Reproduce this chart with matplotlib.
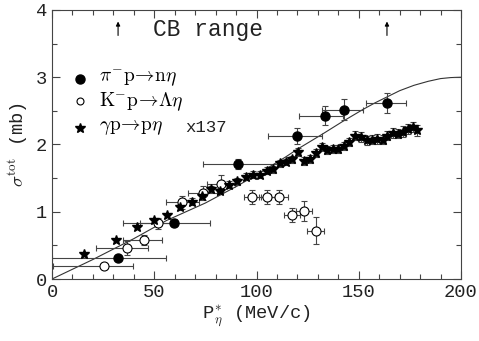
import matplotlib
matplotlib.use("Agg")
import matplotlib.pyplot as plt
import numpy as np
from matplotlib.ticker import MultipleLocator

plt.rcParams['mathtext.fontset'] = 'cm'
plt.rcParams['font.family'] = ['Liberation Mono', 'DejaVu Sans']

# pi- p -> n eta (filled circles)
pi_x = [32.4, 59.7, 90.8, 120.0, 133.5, 142.8, 163.7]
pi_y = [0.31, 0.84, 1.71, 2.12, 2.43, 2.52, 2.62]
pi_xlo = [32.4, 25.0, 17.0, 14.2, 12.7, 10.9, 10.2]
pi_xhi = [23.3, 17.6, 19.0, 11.9, 8.8, 9.5, 9.3]
pi_yerr = [0.03, 0.05, 0.08, 0.12, 0.14, 0.15, 0.15]

# K- p -> Lambda eta (open circles)
k_x = [25.6, 36.5, 45.0, 52.0, 63.8, 73.7, 82.6, 98.0, 105.0, 111.2, 117.5, 123.2, 128.9]
k_y = [0.20, 0.46, 0.58, 0.83, 1.14, 1.28, 1.42, 1.22, 1.22, 1.22, 0.95, 1.01, 0.72]
k_xlo = [25.3, 15.0, 10.4, 9.0, 8.0, 7.0, 7.0, 4.0, 4.0, 4.0, 4.0, 4.0, 4.0]
k_xhi = [13.9, 10.6, 9.0, 9.0, 8.0, 7.0, 7.0, 4.0, 4.0, 4.0, 4.0, 4.0, 4.0]
k_yerr = [0.03, 0.10, 0.08, 0.08, 0.10, 0.10, 0.12, 0.10, 0.10, 0.10, 0.10, 0.15, 0.20]

# gamma p -> p eta x137 (stars)
g_x = [15.8, 31.3, 41.7, 49.7, 56.4, 62.7, 68.3, 73.2, 77.9, 82.3, 86.7, 90.6,
       94.9, 98.5, 101.7, 105.3, 108.2, 111.5, 114.4, 117.2, 120.5, 123.4, 126.2,
       129.1, 131.9, 134.6, 137.2, 140.0, 142.8, 145.4, 148.2, 151.0, 153.9,
       156.3, 158.8, 161.7, 164.0, 166.6, 169.3, 171.8, 174.2, 176.4, 178.3]
g_y = [0.37, 0.58, 0.77, 0.88, 0.95, 1.07, 1.15, 1.24, 1.34, 1.31, 1.40, 1.45,
       1.52, 1.55, 1.55, 1.61, 1.63, 1.72, 1.74, 1.78, 1.89, 1.76, 1.79,
       1.88, 1.96, 1.92, 1.93, 1.93, 1.98, 2.04, 2.13, 2.11, 2.06,
       2.07, 2.08, 2.07, 2.13, 2.17, 2.16, 2.19, 2.23, 2.26, 2.21]
g_yerr = [0, 0, 0, 0, 0, 0.05, 0.05, 0.05, 0.05, 0.05, 0.05, 0.05,
          0.05, 0.05, 0.05, 0.05, 0.05, 0.05, 0.05, 0.05, 0.06, 0.06, 0.06,
          0.06, 0.06, 0.06, 0.06, 0.06, 0.06, 0.06, 0.07, 0.07, 0.07,
          0.07, 0.07, 0.07, 0.07, 0.07, 0.07, 0.08, 0.08, 0.08, 0.08]

# curve
c_x = [0, 20, 40, 56, 75, 91, 100, 107, 114, 120, 126, 132, 142, 152, 158, 164,
       170, 177, 184, 190, 195, 200]
c_y = [0, 0.29, 0.60, 0.87, 1.13, 1.39, 1.55, 1.68, 1.81, 1.93, 2.04, 2.15, 2.34,
       2.52, 2.62, 2.71, 2.80, 2.88, 2.94, 2.98, 2.995, 3.0]

fig = plt.figure(figsize=(4.79, 3.41), dpi=100)
ax = fig.add_axes([0.1086, 0.1818, 0.8538, 0.7889])

ax.plot(c_x, c_y, color='#333333', lw=0.8, zorder=1)

ecol = '#444444'
ax.errorbar(pi_x, pi_y, xerr=[pi_xlo, pi_xhi], yerr=pi_yerr, fmt='o', ms=6.5,
            mfc='black', mec='black', ecolor=ecol, elinewidth=0.8, capsize=2.5,
            capthick=0.8, zorder=3)
ax.errorbar(k_x, k_y, xerr=[k_xlo, k_xhi], yerr=k_yerr, fmt='o', ms=6.5,
            mfc='white', mec='black', mew=0.8, ecolor=ecol, elinewidth=0.8,
            capsize=2.5, capthick=0.8, zorder=3)
gx = np.array(g_x); gy = np.array(g_y); ge = np.array(g_yerr)
m = ge > 0
ax.errorbar(gx[m], gy[m], yerr=ge[m], fmt='none', ecolor=ecol, elinewidth=0.8,
            capsize=2.5, capthick=0.8, zorder=2)
ax.plot(gx, gy, '*', ms=7.5, color='black', ls='none', zorder=4)

ax.set_xlim(0, 200)
ax.set_ylim(0, 4)
ax.xaxis.set_major_locator(MultipleLocator(50))
ax.xaxis.set_minor_locator(MultipleLocator(10))
ax.yaxis.set_major_locator(MultipleLocator(1))
ax.yaxis.set_minor_locator(MultipleLocator(0.5))
ax.tick_params(which='both', direction='in', top=True, right=True,
               labelsize=13.5, width=0.8, color='#444444', labelcolor='#222222')
ax.tick_params(which='major', length=6)
ax.tick_params(which='minor', length=3.5)
for s in ax.spines.values():
    s.set_linewidth(0.8)
    s.set_color('#444444')

ax.set_xlabel(r'P$_{\eta}^{*}$ (MeV/c)', fontsize=13.5, labelpad=2, color='#222222')
ax.set_ylabel(r'$\sigma^{\mathrm{tot}}$ (mb)', fontsize=13.5, labelpad=4, color='#222222')

# CB range
ax.text(49.5, 3.71, 'CB range', fontsize=16.5, ha='left', va='center', color='#222222')
for xa in [32.3, 163.8]:
    ax.annotate('', xy=(xa, 3.87), xytext=(xa, 3.58),
                arrowprops=dict(arrowstyle='-|>', lw=0.8, color='black',
                                mutation_scale=6))

# legend
ax.plot([13.7], [2.98], 'o', ms=6.5, color='black')
ax.plot([13.7], [2.65], 'o', ms=5, mfc='white', mec='black', mew=0.8)
ax.plot([13.7], [2.24], '*', ms=7, color='black')
ax.text(23, 2.98, r'$\pi^{-}\mathrm{p}\!\rightarrow\!\mathrm{n}\eta$', fontsize=14, va='center')
ax.text(23, 2.63, r'$\mathrm{K}^{-}\mathrm{p}\!\rightarrow\!\Lambda\eta$', fontsize=14, va='center')
ax.text(23, 2.26, r'$\gamma\mathrm{p}\!\rightarrow\!\mathrm{p}\eta$', fontsize=14, va='center')
ax.text(65, 2.26, 'x137', fontsize=12.5, va='center', color='#222222')

fig.savefig('out.png', dpi=100)
